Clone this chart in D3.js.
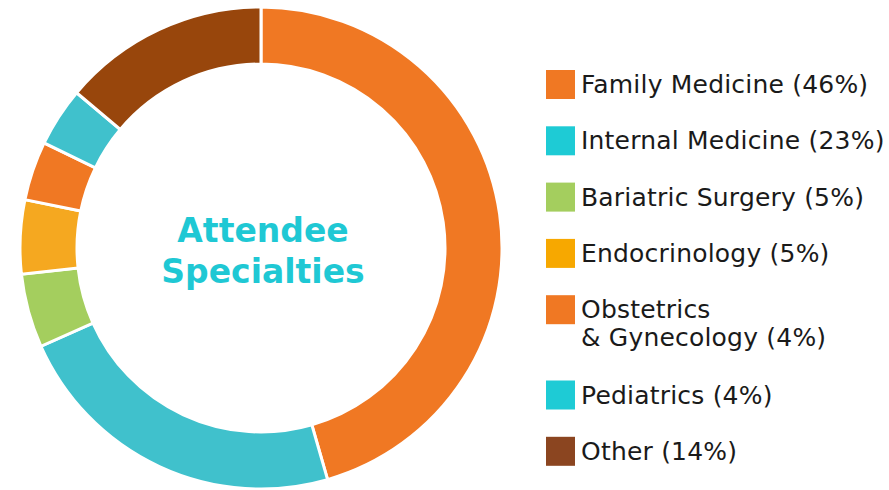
<!DOCTYPE html>
<html>
<head>
<meta charset="utf-8">
<script src="https://cdn.jsdelivr.net/npm/d3@7"></script>
<style>
  body { margin: 0; background: #fff; }
  svg { display: block; }
  text { font-family: "DejaVu Sans", sans-serif; }
</style>
</head>
<body>
<script>
var categories = ["Family Medicine", "Internal Medicine", "Bariatric Surgery", "Endocrinology",
    "Obstetrics & Gynecology", "Pediatrics", "Other"];
var values = [46, 23, 5, 5, 4, 4, 14];
var legendLines = [
    ["Family Medicine (46%)"],
    ["Internal Medicine (23%)"],
    ["Bariatric Surgery (5%)"],
    ["Endocrinology (5%)"],
    ["Obstetrics", "& Gynecology (4%)"],
    ["Pediatrics (4%)"],
    ["Other (14%)"]
];
var titleLines = ["Attendee", "Specialties"];
var sliceColors = ["#f07823", "#40c1cc", "#a4ce5e", "#f5a820", "#f07823", "#40c1cc", "#98460c"];
var legendColors = ["#f07823", "#1ecbd5", "#a4ce5e", "#f7a800", "#f07823", "#1ecbd5", "#8b4520"];

var w = 889;
var h = 490;
var cx = 261, cy = 248;
var outerR = 241, innerR = 184;

var svg = d3.select("body")
    .append("svg")
    .attr("width", w)
    .attr("height", h);

var pie = d3.pie().sort(null).value(function (d) { return d; });
var arc = d3.arc().innerRadius(innerR).outerRadius(outerR);

var g = svg.append("g").attr("transform", "translate(" + cx + "," + cy + ")");

g.selectAll("path")
    .data(pie(values))
    .enter()
    .append("path")
    .attr("d", arc)
    .attr("fill", function (d, i) { return sliceColors[i]; })
    .attr("stroke", "#fff")
    .attr("stroke-width", 3);

// centre title, one text per line
g.selectAll("text.title")
    .data(titleLines)
    .enter()
    .append("text")
    .attr("class", "title")
    .attr("text-anchor", "middle")
    .attr("x", 2)
    .attr("y", function (d, i) { return -6 + i * 41; })
    .attr("fill", "#1fc8d4")
    .style("font-weight", 700)
    .style("font-size", "33px")
    .text(function (d) { return d; });

// legend: rows with two-line entry taking extra space
var rowTop = [];
var y = 70;
legendLines.forEach(function (lines) {
    rowTop.push(y);
    y += 56.3 + (lines.length - 1) * 29;
});

var items = svg.append("g").selectAll("g")
    .data(legendLines)
    .enter()
    .append("g")
    .attr("transform", function (d, i) { return "translate(546," + rowTop[i] + ")"; });

items.append("rect")
    .attr("width", 29)
    .attr("height", 29)
    .attr("fill", function (d, i) { return legendColors[i]; });

items.each(function (lines) {
    d3.select(this).selectAll("text")
        .data(lines)
        .enter()
        .append("text")
        .attr("x", 35)
        .attr("y", function (d, j) { return 23 + j * 28; })
        .attr("fill", "#1a1a1a")
        .style("font-size", "25px")
        .style("letter-spacing", "0.2px")
        .text(function (d) { return d; });
});
</script>
</body>
</html>
